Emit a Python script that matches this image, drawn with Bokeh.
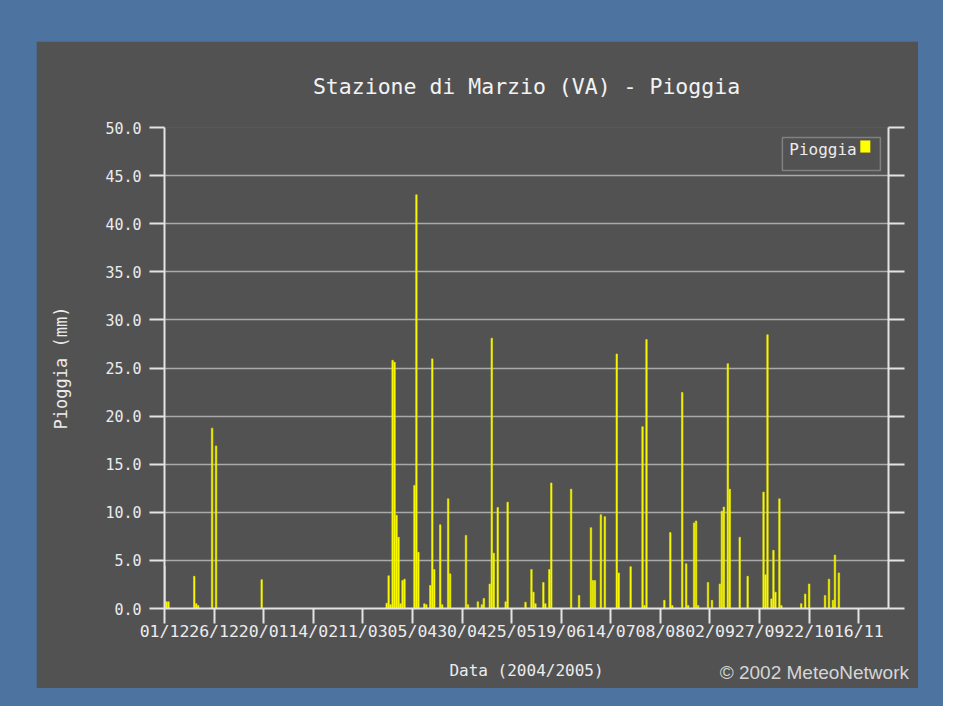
from bokeh.plotting import figure
from bokeh.layouts import column
from bokeh.models import (Range1d, FixedTicker, LinearAxis, BoxAnnotation, Label,
                          PrintfTickFormatter, CustomLabelingPolicy)
from bokeh.embed import file_html
from bokeh.resources import INLINE

# giorni dal 01/12/2004
giorni = [0, 1, 2, 15, 16, 17, 24, 26, 49,
          112, 113, 114, 115, 116, 117, 118, 119, 120, 121,
          126, 127, 128, 131, 132, 134, 135, 136, 139, 140, 143, 144, 152, 153,
          158, 160, 161, 164, 165, 166, 168, 172, 173,
          182, 185, 186, 187, 191, 192, 194, 195, 205, 209, 215, 216, 217, 220, 222,
          228, 229, 235, 241, 242, 243, 252, 255, 256, 261, 263, 264,
          267, 268, 269, 274, 276, 280, 281, 282, 284, 285, 290, 294,
          302, 303, 304, 306, 307, 308, 310, 311, 321, 323, 325, 333, 335, 337, 338, 340]
pioggia = [4.4, 0.7, 0.7, 3.35, 0.5, 0.3, 18.75, 16.9, 3.0,
           0.55, 3.4, 0.4, 25.8, 25.6, 9.7, 7.4, 0.5, 2.9, 3.05,
           12.8, 43.0, 5.85, 0.5, 0.4, 2.4, 25.95, 4.05, 8.7, 0.4, 11.4, 3.6, 7.6, 0.4,
           0.7, 0.4, 1.05, 2.55, 28.1, 5.75, 10.5, 0.7, 11.05,
           0.65, 4.05, 1.7, 0.5, 2.7, 0.5, 4.05, 13.05, 12.4, 1.35, 8.4, 2.9, 2.9, 9.75, 9.55,
           26.45, 3.7, 4.35, 18.9, 0.3, 27.95, 0.85, 7.9, 0.3, 22.45, 4.65, 0.3,
           8.9, 9.1, 0.3, 2.7, 0.85, 2.55, 10.1, 10.55, 25.45, 12.4, 7.4, 3.35,
           12.1, 3.5, 28.45, 1.0, 6.05, 1.7, 11.4, 0.3, 0.5, 1.5, 2.55, 1.35, 3.05, 0.85, 5.55, 3.7]

tick_giorni = [0, 25, 50, 75, 100, 125, 150, 175, 200, 225, 250, 275, 300, 325, 350]
tick_etichette = ["01/12", "26/12", "20/01", "14/02", "11/03", "05/04", "30/04", "25/05",
                  "19/06", "14/07", "08/08", "02/09", "27/09", "22/10", "16/11"]
tick_y = [0, 5, 10, 15, 20, 25, 30, 35, 40, 45, 50]
copyright_testo = "\u00a9 2002 MeteoNetwork"

BLU = "#4d73a1"
GRIGIO = "#525252"
MONO = "DejaVu Sans Mono"
CHIARO = "#e4e4e4"

p = figure(width=882, height=647, output_backend="svg", toolbar_location=None,
           x_range=Range1d(0, 365), y_range=Range1d(0, 50),
           min_border_left=128, min_border_right=30, min_border_top=86, min_border_bottom=80,
           background_fill_color=GRIGIO, border_fill_color=GRIGIO, outline_line_color=None,
           title="Stazione di Marzio (VA) - Pioggia", margin=(41, 25, 18, 36))

p.vbar(x=giorni, top=pioggia, width=0.75, fill_color="#ffff00",
       line_color="#e6e600", line_width=0.6)

p.title.text_font = MONO
p.title.text_font_size = "21.5px"
p.title.text_font_style = "normal"
p.title.text_color = "#f2f2f2"
p.title.align = "center"
p.title.standoff = 58

p.xgrid.visible = False
p.ygrid.ticker = FixedTicker(ticks=tick_y)
p.ygrid.grid_line_color = "#aaaaaa"
p.ygrid.grid_line_width = 1.5

ax = p.xaxis[0]
ax.ticker = FixedTicker(ticks=tick_giorni)
ax.major_label_overrides = {t: s for t, s in zip(tick_giorni, tick_etichette)}

ay = p.yaxis[0]
ay.ticker = FixedTicker(ticks=tick_y)
ay.formatter = PrintfTickFormatter(format="%.1f")
ay.axis_label = "Pioggia (mm)"

# asse destro: solo linea e tacche
ar = LinearAxis(ticker=FixedTicker(ticks=tick_y),
                major_label_policy=CustomLabelingPolicy(
                    code="for (const i of indices) indices.unset(i); return indices"))
p.add_layout(ar, "right")

for a in (ax, ay, ar):
    a.axis_line_color = CHIARO
    a.axis_line_width = 2
    a.major_tick_line_color = CHIARO
    a.major_tick_line_width = 2
    a.major_tick_in = 0
    a.major_tick_out = 15
    a.minor_tick_line_color = None
    a.major_label_text_color = "#ececec"
    a.major_label_text_font = MONO
    a.axis_label_text_font = MONO
    a.axis_label_text_font_style = "normal"
    a.axis_label_text_color = "#ececec"
    a.axis_label_text_font_size = "16px"

ax.major_label_text_font_size = "16.5px"
ax.major_label_standoff = -2
ay.major_label_text_font_size = "15px"
ay.major_label_standoff = 8
ay.axis_label_text_font_size = "17px"
ay.axis_label_standoff = 31
ar.major_tick_out = 16
ar.major_label_standoff = 0
ar.major_label_text_font_size = "2px"

# seconda riga sotto l'asse: titolo asse x e copyright
ax2 = LinearAxis(ticker=FixedTicker(ticks=[327.6]),
                 major_label_overrides={327.6: copyright_testo},
                 axis_label="Data (2004/2005)")
ax2.axis_line_color = None
ax2.major_tick_line_color = None
ax2.major_tick_in = 0
ax2.major_tick_out = 0
ax2.minor_tick_line_color = None
ax2.major_label_text_font = "Liberation Sans"
ax2.major_label_text_font_size = "19px"
ax2.major_label_text_color = "#d6d6d6"
ax2.major_label_standoff = 18
ax2.axis_label_text_font = MONO
ax2.axis_label_text_font_style = "normal"
ax2.axis_label_text_color = "#ececec"
ax2.axis_label_text_font_size = "16px"
ax2.axis_label_standoff = -25
p.add_layout(ax2, "below")

# legenda
p.add_layout(BoxAnnotation(left=311.5, right=360.9, top=48.96, bottom=45.53,
                           fill_color=GRIGIO, fill_alpha=1.0, line_color="#f0f0f0", line_width=1.5))
p.add_layout(Label(x=315.0, y=47.71, text="Pioggia", text_font=MONO, text_font_size="16px",
                   text_color="#ececec", text_baseline="middle", text_align="left"))
p.add_layout(BoxAnnotation(left=350.8, right=355.8, top=48.65, bottom=47.4,
                           fill_color="#ffff00", fill_alpha=1.0, line_color="#e6e600", line_width=0.6))

layout = column(p, styles={"background-color": BLU})

open("out.html", "w").write(file_html(layout, INLINE))
